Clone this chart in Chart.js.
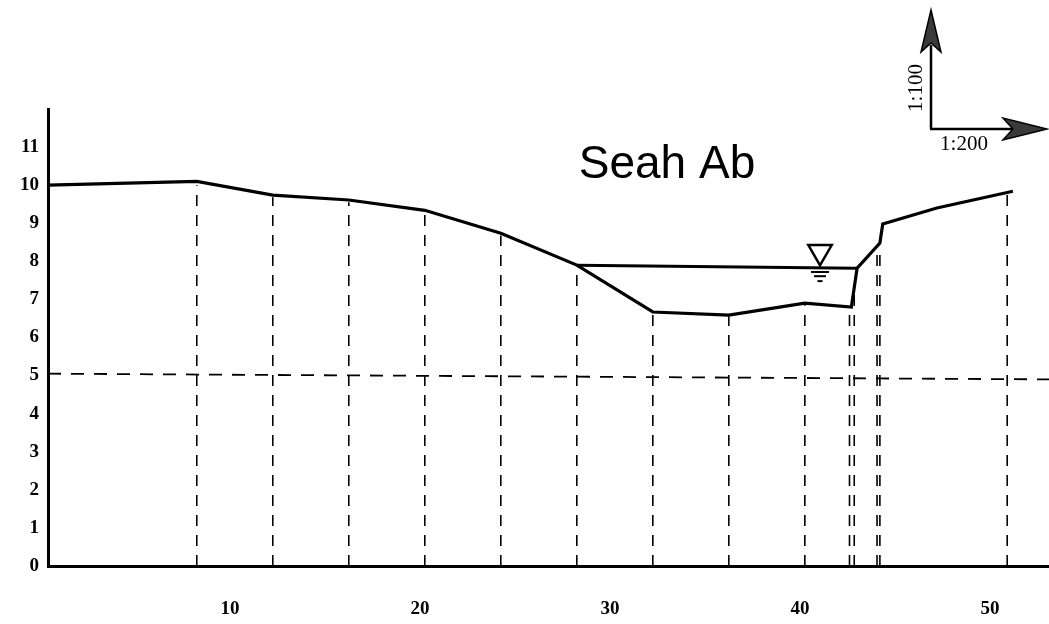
<!DOCTYPE html>
<html>
<head>
<meta charset="utf-8">
<script src="https://cdn.jsdelivr.net/npm/chart.js@4.4.1/dist/chart.umd.min.js"></script>
<style>
  html, body { margin: 0; padding: 0; background: #ffffff; }
  #wrap { width: 1049px; height: 624px; position: relative; }
</style>
</head>
<body>
<div id="wrap"><canvas id="c" width="1049" height="624"></canvas></div>
<script>
// ---- data ----
const chartTitle = 'Seah Ab';
const xTicks = [10, 20, 30, 40, 50];
const yTicks = [0, 1, 2, 3, 4, 5, 6, 7, 8, 9, 10, 11];

// ground profile
const profileX = [0.42, 8.25, 12.25, 16.25, 20.25, 24.25, 28.25, 32.25, 36.25, 40.25, 42.7, 43.0, 44.2, 44.35, 47.2, 51.2];
const profileY = [10.0, 10.1, 9.74, 9.61, 9.34, 8.74, 7.9, 6.67, 6.59, 6.9, 6.8, 7.82, 8.48, 8.98, 9.4, 9.84];

// survey stations (vertical dashed lines)
const stationX   = [8.25, 12.25, 16.25, 20.25, 24.25, 28.25, 32.25, 36.25, 40.25, 42.6, 42.85, 44.05, 44.2, 50.9];
const stationTop = [10.0, 9.68, 9.55, 9.28, 8.68, 7.85, 6.62, 6.55, 6.85, 6.75, 7.3, 8.4, 8.4, 9.75];

// water surface
const waterX = [28.25, 43.0];
const waterY = [7.9, 7.82];

// reference level (dashed)
const levelX = [0.42, 53.1];
const levelY = [5.05, 4.9];

// water level symbol
const symbolX = 41.05;
const symbolY = 8.25;
const symbolLinesY = [7.72, 7.61, 7.48];
const symbolLinesR = [9, 6, 2.5];

// scale note
const scaleV = '1:100';
const scaleH = '1:200';

// ---- build datasets ----
const toPts = (xs, ys) => xs.map((x, i) => ({ x: x, y: ys[i] }));
const stationPts = [];
stationX.forEach((x, i) => {
  stationPts.push({ x: x, y: 0 });
  stationPts.push({ x: x, y: stationTop[i] });
  stationPts.push({ x: x, y: null });
});

const overlay = {
  id: 'overlay',
  afterDraw(chart) {
    const ctx = chart.ctx;
    ctx.save();
    // title
    ctx.fillStyle = '#000';
    ctx.font = '46px "Liberation Sans", Arial, sans-serif';
    ctx.textAlign = 'center';
    ctx.textBaseline = 'alphabetic';
    ctx.fillText(chartTitle, 667, 178);

    // scale indicator
    ctx.strokeStyle = '#000';
    ctx.lineWidth = 2.5;
    ctx.beginPath();
    ctx.moveTo(931, 129); ctx.lineTo(931, 45);
    ctx.moveTo(930, 129); ctx.lineTo(1015, 129);
    ctx.stroke();
    ctx.fillStyle = '#3a3a3a';
    ctx.lineWidth = 1.5;
    // vertical arrow head
    ctx.beginPath();
    ctx.moveTo(931, 10); ctx.lineTo(941, 52); ctx.lineTo(931, 43); ctx.lineTo(921, 52); ctx.closePath();
    ctx.fill(); ctx.stroke();
    // horizontal arrow head
    ctx.beginPath();
    ctx.moveTo(1047, 129); ctx.lineTo(1003, 140); ctx.lineTo(1013, 129); ctx.lineTo(1003, 118); ctx.closePath();
    ctx.fill(); ctx.stroke();

    ctx.fillStyle = '#000';
    ctx.font = '21px "Liberation Serif", serif';
    ctx.textAlign = 'center';
    ctx.textBaseline = 'middle';
    ctx.fillText(scaleH, 964, 144);
    ctx.translate(916, 88);
    ctx.rotate(-Math.PI / 2);
    ctx.fillText(scaleV, 0, 0);
    ctx.restore();
  }
};

new Chart(document.getElementById('c'), {
  type: 'scatter',
  data: {
    datasets: [
      { data: toPts(profileX, profileY), showLine: true, borderColor: '#000', borderWidth: 3.2, pointRadius: 0, tension: 0 },
      { data: toPts(waterX, waterY), showLine: true, borderColor: '#000', borderWidth: 3, pointRadius: 0 },
      { data: stationPts, showLine: true, spanGaps: false, borderColor: '#000', borderWidth: 1.6, borderDash: [11, 9], pointRadius: 0 },
      { data: toPts(levelX, levelY), showLine: true, borderColor: '#000', borderWidth: 1.8, borderDash: [13, 10], pointRadius: 0 },
      { data: [{ x: symbolX, y: symbolY }], pointStyle: 'triangle', rotation: 180, pointRadius: 13.5,
        borderColor: '#000', borderWidth: 2.5, backgroundColor: 'rgba(255,255,255,0)' },
      { data: symbolLinesY.map(y => ({ x: symbolX, y: y })), pointStyle: 'line', pointRadius: symbolLinesR,
        borderColor: '#000', borderWidth: 2 }
    ]
  },
  options: {
    responsive: false,
    animation: false,
    events: [],
    devicePixelRatio: 1,
    layout: { autoPadding: false, padding: { top: 109, right: 0, left: 0, bottom: 0 } },
    plugins: { legend: { display: false }, tooltip: { enabled: false }, title: { display: false } },
    scales: {
      x: {
        type: 'linear', min: 0.42, max: 53.1,
        afterBuildTicks: s => { s.ticks = xTicks.map(v => ({ value: v })); },
        afterFit: s => { s.height = 58; },
        grid: { display: false, drawTicks: false },
        border: { display: true, color: '#000', width: 3 },
        ticks: { color: '#000', padding: 32, maxRotation: 0, font: { family: '"Liberation Serif", serif', size: 19, weight: 'bold' } }
      },
      y: {
        type: 'linear', min: 0, max: 12,
        afterBuildTicks: s => { s.ticks = yTicks.map(v => ({ value: v })); },
        afterFit: s => { s.width = 48; },
        grid: { display: false, drawTicks: false },
        border: { display: true, color: '#000', width: 3 },
        ticks: { color: '#000', padding: 9, font: { family: '"Liberation Serif", serif', size: 19, weight: 'bold' } }
      }
    }
  },
  plugins: [overlay]
});
</script>
</body>
</html>
